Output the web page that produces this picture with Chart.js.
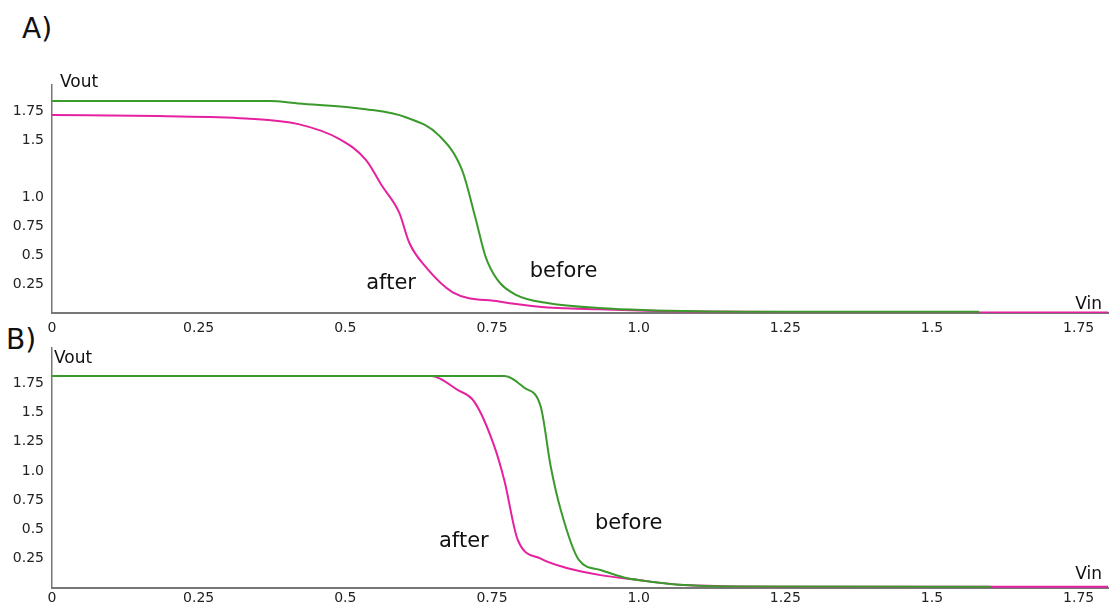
<!DOCTYPE html>
<html>
<head>
<meta charset="utf-8">
<script src="https://cdn.jsdelivr.net/npm/chart.js@4/dist/chart.umd.min.js"></script>
<style>
  body { margin: 0; background: #fff; width: 1110px; height: 608px; overflow: hidden; position: relative; font-family: "DejaVu Sans", sans-serif; }
  .panel { position: absolute; left: 0; width: 1110px; }
  .tag { position: absolute; font-size: 28px; color: #111; }
</style>
</head>
<body>
<div class="tag" style="left:22px; top:12px;">A)</div>
<div class="tag" style="left:6px; top:323px;">B)</div>
<div class="panel" style="top:0; height:335px;"><canvas id="chartA"></canvas></div>
<div class="panel" style="top:330px; height:278px;"><canvas id="chartB"></canvas></div>
<script>
// tick values / labels
const xTicks = [0, 0.25, 0.5, 0.75, 1.0, 1.25, 1.5, 1.75];
const xTickLabels = ["0", "0.25", "0.5", "0.75", "1.0", "1.25", "1.5", "1.75"];
const yTicksA = [0.25, 0.5, 0.75, 1.0, 1.5, 1.75];
const yTicksB = [0.25, 0.5, 0.75, 1.0, 1.25, 1.5, 1.75];

// panel A
const vinA_before = [0, 0.37, 0.42, 0.535, 0.603, 0.66, 0.699, 0.722, 0.739, 0.759, 0.79, 0.847, 0.932, 1.1, 1.3, 1.58];
const voutA_before = [1.84, 1.84, 1.82, 1.77, 1.70, 1.54, 1.24, 0.82, 0.49, 0.29, 0.16, 0.085, 0.044, 0.015, 0.01, 0.01];
const vinA_after = [0, 0.18, 0.33, 0.42, 0.49, 0.535, 0.563, 0.592, 0.609, 0.637, 0.683, 0.762, 0.83, 0.932, 1.1, 1.4, 1.8];
const voutA_after = [1.72, 1.71, 1.69, 1.64, 1.51, 1.33, 1.10, 0.87, 0.61, 0.40, 0.18, 0.10, 0.055, 0.032, 0.012, 0.005, 0.005];

// panel B
const vinB_before = [0, 0.771, 0.805, 0.833, 0.85, 0.867, 0.898, 0.935, 0.975, 1.02, 1.077, 1.2, 1.6];
const voutB_before = [1.81, 1.81, 1.71, 1.55, 1.04, 0.67, 0.24, 0.154, 0.09, 0.054, 0.026, 0.012, 0.01];
const vinB_after = [0, 0.646, 0.692, 0.72, 0.754, 0.771, 0.794, 0.833, 0.879, 0.935, 0.99, 1.077, 1.3, 1.8];
const voutB_after = [1.81, 1.81, 1.69, 1.59, 1.21, 0.92, 0.41, 0.25, 0.168, 0.11, 0.074, 0.026, 0.01, 0.01];

// curve labels (data coordinates)
const labelsA = [{ text: "after", x: 0.578, y: 0.26 }, { text: "before", x: 0.872, y: 0.36 }];
const labelsB = [{ text: "after", x: 0.702, y: 0.40 }, { text: "before", x: 0.983, y: 0.55 }];

const GREEN = "#3a9a2c";
const PINK = "#e5219f";

function pts(xs, ys) {
    return xs.map((x, i) => ({ x: x, y: ys[i] }));
}

const panelText = {
    id: "panelText",
    afterDraw(chart, args, opts) {
        const ctx = chart.ctx;
        const a = chart.chartArea;
        const xs = chart.scales.x, ys = chart.scales.y;
        ctx.save();
        ctx.fillStyle = "#111";
        ctx.font = "17px 'DejaVu Sans'";
        ctx.textBaseline = "alphabetic";
        ctx.textAlign = "left";
        ctx.fillText("Vout", a.left + opts.voutDx, a.top + opts.voutDy);
        ctx.textAlign = "right";
        ctx.fillText("Vin", a.right - 6, a.bottom + opts.vinDy);
        ctx.font = "21px 'DejaVu Sans'";
        ctx.textAlign = "center";
        ctx.textBaseline = "middle";
        opts.labels.forEach(l => {
            ctx.fillText(l.text, xs.getPixelForValue(l.x), ys.getPixelForValue(l.y));
        });
        ctx.restore();
    }
};

function makeChart(id, before, after, yTicks, yMax, padTop, xH, xPad, labels, textOpts) {
    return new Chart(document.getElementById(id), {
        type: 'line',
        data: {
            datasets: [{
                label: "before",
                data: before,
                borderColor: GREEN,
                borderWidth: 2,
                pointRadius: 0,
                cubicInterpolationMode: 'monotone'
            }, {
                label: "after",
                data: after,
                borderColor: PINK,
                borderWidth: 2,
                pointRadius: 0,
                cubicInterpolationMode: 'monotone'
            }]
        },
        options: {
            responsive: true,
            maintainAspectRatio: false,
            animation: false,
            layout: { padding: { top: padTop, right: 2, left: 0, bottom: 0 } },
            plugins: {
                legend: { display: false },
                title: { display: false },
                tooltip: { enabled: false },
                panelText: Object.assign({ labels: labels }, textOpts)
            },
            scales: {
                x: {
                    type: 'linear',
                    min: 0,
                    max: 1.8,
                    grid: { display: false, drawTicks: false },
                    border: { display: true, color: "#777", width: 2 },
                    afterBuildTicks: axis => { axis.ticks = xTicks.map(v => ({ value: v })); },
                    afterFit: axis => { axis.height = xH; },
                    ticks: {
                        autoSkip: false,
                        maxRotation: 0,
                        padding: xPad,
                        color: "#222",
                        font: { family: "DejaVu Sans", size: 14 },
                        callback: (v, i) => xTickLabels[i]
                    }
                },
                y: {
                    type: 'linear',
                    min: 0,
                    max: yMax,
                    grid: { display: false, drawTicks: false },
                    border: { display: true, color: "#777", width: 1.5 },
                    afterBuildTicks: axis => { axis.ticks = yTicks.map(v => ({ value: v })); },
                    afterFit: axis => { axis.width = 52; },
                    ticks: {
                        autoSkip: false,
                        padding: 8,
                        color: "#222",
                        font: { family: "DejaVu Sans", size: 14 },
                        callback: v => (v === 1 ? "1.0" : String(v))
                    }
                }
            }
        },
        plugins: [panelText]
    });
}

makeChart("chartA", pts(vinA_before, voutA_before), pts(vinA_after, voutA_after),
    yTicksA, 1.98, 85, 22, 7, labelsA, { voutDx: 8, voutDy: 2, vinDy: -4 });
makeChart("chartB", pts(vinB_before, voutB_before), pts(vinB_after, voutB_after),
    yTicksB, 2.05, 18, 20, 2, labelsB, { voutDx: 2, voutDy: 15, vinDy: -9 });
</script>
</body>
</html>
